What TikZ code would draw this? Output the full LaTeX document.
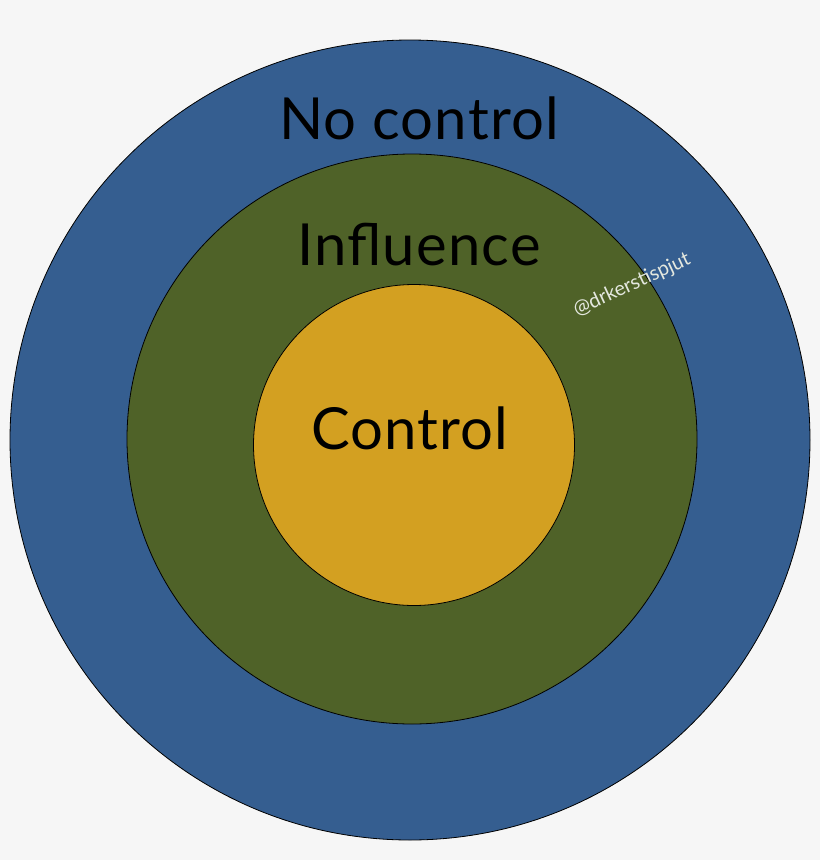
\documentclass[tikz,border=0pt]{standalone}
\usepackage{fontspec}
\setmainfont{Lato}
\definecolor{bgcol}{HTML}{F6F6F6}
\definecolor{outercol}{HTML}{355E90}
\definecolor{midcol}{HTML}{4F6228}
\definecolor{innercol}{HTML}{D3A021}
\begin{document}
\begin{tikzpicture}[x=1pt,y=-1pt,
  ring/.style={circle,draw=black,line width=0.8pt,inner sep=0pt},
  label text/.style={font=\fontsize{58}{60}\selectfont\addfontfeature{LetterSpace=2}}]

  \fill[bgcol] (0,0) rectangle (820,860);
  \useasboundingbox (0,0) rectangle (820,860);

  \node[ring,fill=outercol,minimum size=800pt] (outer) at (410,440) {};
  \node[ring,fill=midcol,minimum size=570pt] (mid) at (412,439) {};
  \node[ring,fill=innercol,minimum size=321pt] (inner) at (414,445) {};

  \node[label text] (nocontrol) at (419,118) {No control};
  \node[label text] (influence) at (419,245) {Influence};
  \node[label text] (control) at (410,428) {Control};
  \node[font=\fontsize{20}{22}\selectfont,text=white!85!midcol,rotate=25] (mark) at (632,285) {@drkerstispjut};
\end{tikzpicture}
\end{document}
